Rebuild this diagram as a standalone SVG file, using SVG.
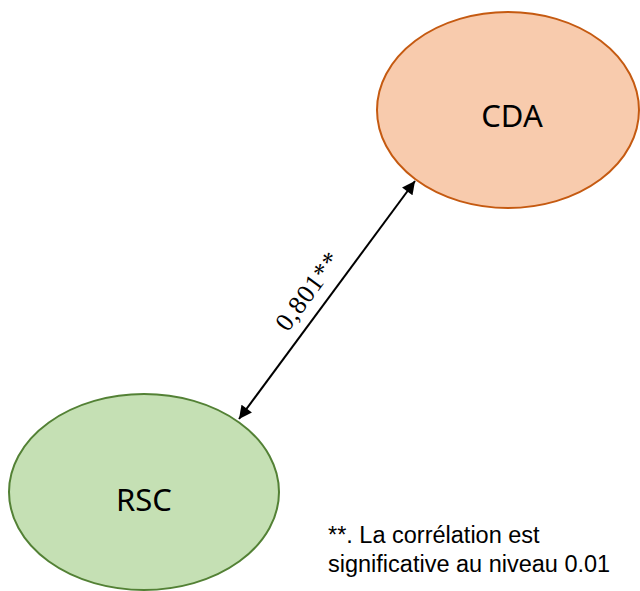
<svg xmlns="http://www.w3.org/2000/svg" width="640" height="591" viewBox="0 0 640 591">
<style>
.node-label{font-family:"Noto Sans","Open Sans",sans-serif;font-size:31px;fill:#000;text-anchor:middle;dominant-baseline:central}
.note{font-family:"Liberation Sans",Arial,sans-serif;font-size:23.5px;fill:#000}
</style>
<defs>
<marker id="ah" viewBox="0 0 10 10" refX="10" refY="5" markerWidth="7" markerHeight="6.5" orient="auto-start-reverse" markerUnits="strokeWidth">
<path d="M0,0 L10,5 L0,10 z" fill="#000"/>
</marker>
</defs>
<rect width="640" height="591" fill="#fff"/>
<g id="CDA">
<ellipse cx="508" cy="110" rx="131" ry="98" fill="#F8CBAD" stroke="#C55A11" stroke-width="2"/>
<text class="node-label" x="512" y="115">CDA</text>
</g>
<g id="RSC">
<ellipse cx="144" cy="492" rx="135" ry="98" fill="#C5E0B4" stroke="#538135" stroke-width="2"/>
<text class="node-label" x="144" y="499">RSC</text>
</g>
<g id="connectors">
<line x1="239" y1="419" x2="415" y2="181" stroke="#000" stroke-width="2" marker-start="url(#ah)" marker-end="url(#ah)"/>
<text x="308" y="291" transform="rotate(-53.6 308 291)" font-family="Liberation Serif,'Times New Roman',serif" font-size="26" letter-spacing="1" text-anchor="middle" dominant-baseline="central">0,801**</text>
</g>
<g id="note">
<text class="note" x="328" y="543">**. La corrélation est</text>
<text class="note" x="328" y="572">significative au niveau 0.01</text>
</g>
</svg>
